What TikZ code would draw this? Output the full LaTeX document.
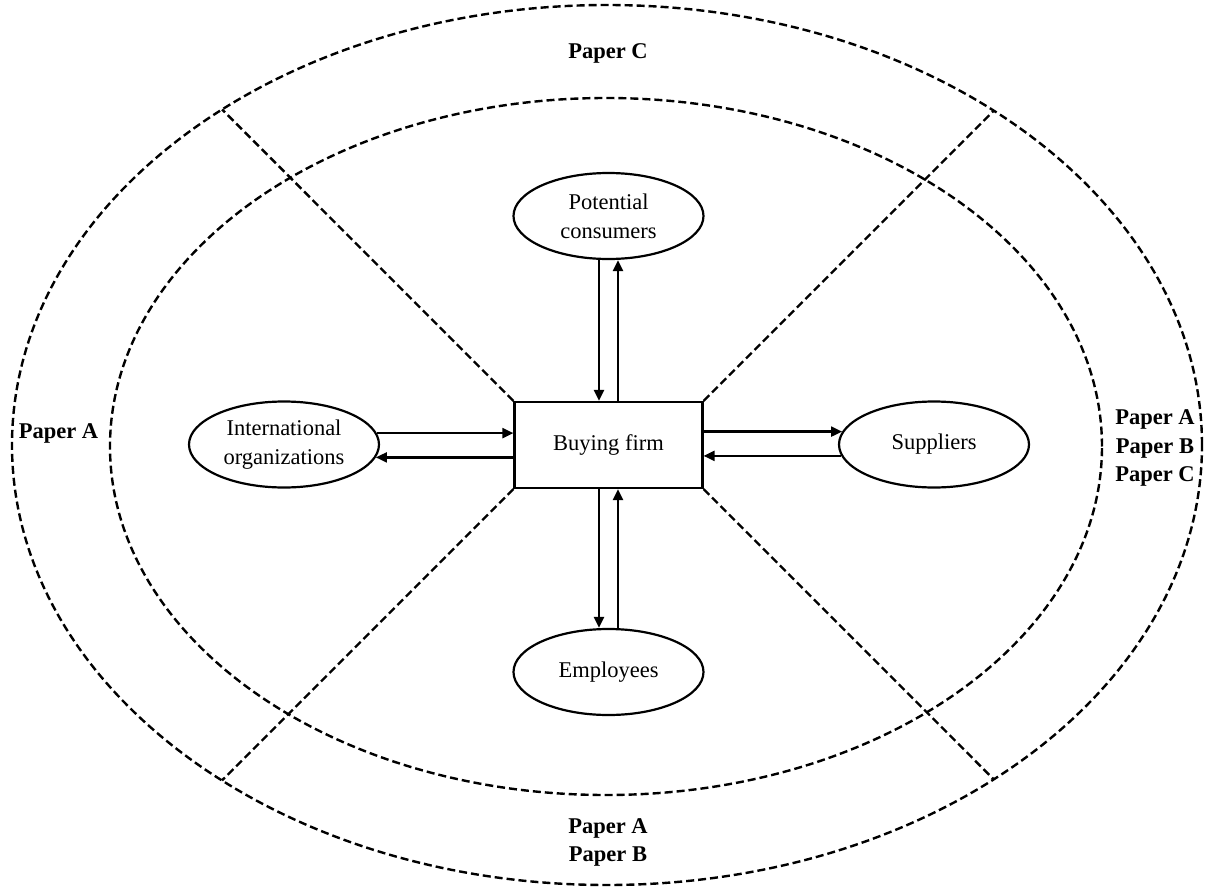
\documentclass[tikz,border=0pt]{standalone}
\usepackage{fontspec}
\setmainfont{Liberation Serif}
\usetikzlibrary{arrows.meta,shapes.geometric,intersections}
\begin{document}
\begin{tikzpicture}[x=0.5pt,y=-0.5pt,
  every node/.style={font=\fontsize{11.25}{14.5}\selectfont, align=center},
  party/.style={draw, line width=1.1pt, ellipse, minimum width=95pt, minimum height=43pt, inner sep=0pt},
  firmbox/.style={draw, line width=1.1pt, minimum width=94pt, minimum height=43pt, inner sep=0pt},
  flow/.style={line width=1.1pt, -{Triangle[length=5.5pt,width=5pt]}},
  zone/.style={line width=1.2pt, dash pattern=on 4pt off 2pt},
  paper/.style={font=\bfseries\fontsize{11.25}{14.25}\selectfont, align=center}]
\useasboundingbox (0,0) rectangle (1207,889);
\draw[zone, name path=outer] (607,445) ellipse [x radius=297.5pt, y radius=220pt];
\draw[zone] (606,446.5) ellipse [x radius=248pt, y radius=174.25pt];

\node[firmbox, fill=white] (firm) at (608.5,445) {Buying firm};

\path[name path=d1] (firm.north west) -- ++(-400,-400);
\path[name path=d2] (firm.north east) -- ++(400,-400);
\path[name path=d3] (firm.south west) -- ++(-400,400);
\path[name path=d4] (firm.south east) -- ++(400,400);
\path[name intersections={of=d1 and outer, by=e1}];
\path[name intersections={of=d2 and outer, by=e2}];
\path[name intersections={of=d3 and outer, by=e3}];
\path[name intersections={of=d4 and outer, by=e4}];
\draw[zone] (firm.north west) -- (e1);
\draw[zone] (firm.north east) -- (e2);
\draw[zone] (firm.south west) -- (e3);
\draw[zone] (firm.south east) -- (e4);

\node[party] (pc) at (608.5,216) {Potential\\consumers};
\node[party] (emp) at (608.5,672) {Employees};
\node[party] (io) at (284,444.5) {International\\organizations};
\node[party] (sup) at (934,444.5) {Suppliers};

\draw[flow] ([xshift=-4.75pt]pc.south) -- ([xshift=-4.75pt]pc.south |- firm.north);
\draw[flow] ([xshift=4.75pt]pc.south |- firm.north) -- ([xshift=4.75pt]pc.south);
\draw[flow] ([xshift=-4.75pt]firm.south) -- ([xshift=-4.75pt]firm.south |- emp.north);
\draw[flow] ([xshift=4.75pt]emp.north) -- ([xshift=4.75pt]emp.north |- firm.south);
\draw[flow] (io.7.2) -- (io.7.2 -| firm.west);
\draw[flow] (io.352.8 -| firm.west) -- (io.352.8);
\draw[flow] (sup.172.8 -| firm.east) -- (sup.172.8);
\draw[flow] (sup.187.2) -- (sup.187.2 -| firm.east);

\node[paper] (pC) at (608,53) {Paper C};
\node[paper] (pAl) at (58.5,433) {Paper A};
\node[paper] (pABC) at (1155,448) {Paper A\\Paper B\\Paper C};
\node[paper] (pAB) at (608,842.5) {Paper A\\Paper B};
\end{tikzpicture}
\end{document}
